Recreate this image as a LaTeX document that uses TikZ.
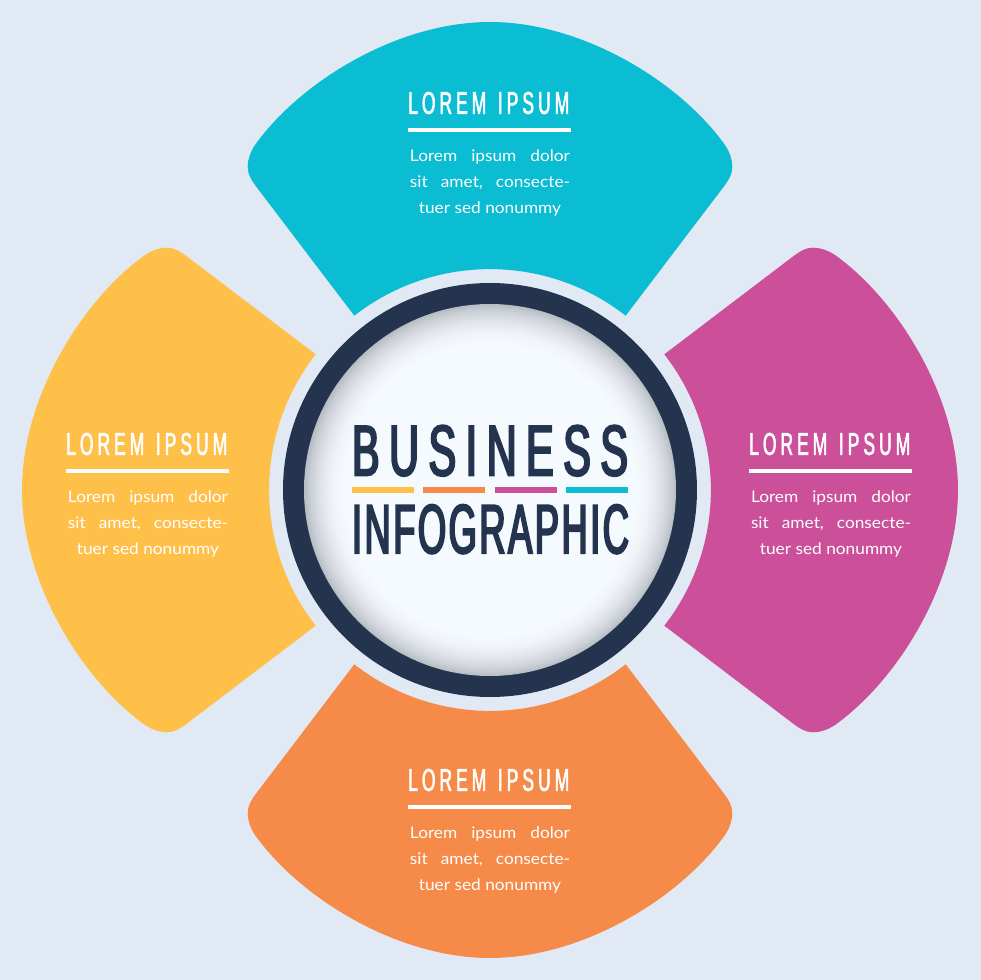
\documentclass[tikz,border=0pt]{standalone}
\usepackage{graphicx}
\usepackage{fontspec}
\setmainfont{Lato}
\newfontfamily\bodyfont[FakeStretch=1.08]{Lato}
\newfontfamily\headfont[FakeStretch=0.6,LetterSpace=14,FakeBold=2,WordSpace=1.3]{Liberation Sans}
\newfontfamily\bigfont[FakeStretch=0.61,LetterSpace=14,FakeBold=3]{Liberation Sans}
\newfontfamily\infofont[FakeStretch=0.58,LetterSpace=4,FakeBold=3]{Liberation Sans}
\definecolor{bgc}{HTML}{E1EAF4}
\definecolor{tealc}{HTML}{0BBDD3}
\definecolor{yellowc}{HTML}{FFC04A}
\definecolor{magc}{HTML}{CC4F9A}
\definecolor{orangec}{HTML}{F68A48}
\definecolor{navyc}{HTML}{24344F}
\definecolor{cenc}{HTML}{F5FAFF}
\definecolor{sh1}{HTML}{B6BCC3}
\definecolor{sh2}{HTML}{CACFD6}
\definecolor{sh3}{HTML}{E0E4E9}
\definecolor{sh4}{HTML}{F0F4F8}
\pgfdeclareradialshading{ringshade}{\pgfpointorigin}{color(0bp)=(cenc); color(19.6bp)=(cenc); color(21.2bp)=(sh4); color(22.8bp)=(sh3); color(24.2bp)=(sh2); color(25bp)=(sh1); color(50bp)=(sh1)}
\newcommand\petalpath{(-135.7,174.3) -- (-232,301) .. controls (-239,310) and (-242.3,316) .. (-242.3,323) .. controls (-242.3,331) and (-239.5,338) .. (-235,345) .. controls (-190,408) and (-93,468) .. (0,468) .. controls (93,468) and (190,408) .. (235,345) .. controls (239.5,338) and (242.3,331) .. (242.3,323) .. controls (242.3,316) and (239,310) .. (232,301) -- (135.7,174.3) arc[start angle=52.1,end angle=127.9,radius=220.9pt] -- cycle}
\tikzset{
  x=1pt,y=1pt,
  headtext/.style={inner sep=0pt,text=white,anchor=west},
  bodytext/.style={inner sep=0pt,text=white,align=center,anchor=north,font=\bodyfont\fontsize{16}{26}\selectfont},
  whiterule/.style={fill=white,inner sep=0pt,minimum width=163pt,minimum height=3.5pt,anchor=west},
  bar/.style={inner sep=0pt,minimum width=62pt,minimum height=6pt}
}
% id, centre x (px), top heading y (px)
\newcommand\infoblock[3]{%
  \node[headtext] (#1head) at (#2-82,490-#3) {\resizebox{161pt}{22pt}{\fontsize{30.7}{32}\headfont LOREM IPSUM}};
  \node[whiterule] (#1rule) at (#2-82,490-#3-27) {};
  \node[bodytext] (#1body) at (#2,490-#3-46.5) {%
    \makebox[160pt][s]{Lorem\hfill ipsum\hfill dolor}\\
    \makebox[160pt][s]{sit\hfill amet,\hfill consecte-}\\
    tuer sed nonummy};
}
\begin{document}
\begin{tikzpicture}
\useasboundingbox (-490,-490) rectangle (490,490);
\fill[bgc] (-495,-495) rectangle (495,495);
\fill[tealc] \petalpath;
\begin{scope}[rotate=90]\fill[yellowc] \petalpath;\end{scope}
\begin{scope}[rotate=180]\fill[orangec] \petalpath;\end{scope}
\begin{scope}[rotate=270]\fill[magc] \petalpath;\end{scope}
\fill[navyc] (0,0) circle[radius=207pt];
\shade[shading=ringshade] (0,0) circle[radius=186pt];
\node[inner sep=0pt,text=navyc] (business) at (0,39.3) {\resizebox{276pt}{50pt}{\fontsize{69.8}{72}\bigfont BUSINESS}};
\node[inner sep=0pt,text=navyc] (infographic) at (0.5,-39.2) {\resizebox{277pt}{48.5pt}{\fontsize{67.7}{70}\infofont INFOGRAPHIC}};
\node[bar,fill=yellowc] (bara) at (-107,0) {};
\node[bar,fill=orangec] (barb) at (-36,0) {};
\node[bar,fill=magc] (barc) at (36,0) {};
\node[bar,fill=tealc] (bard) at (107,0) {};
\infoblock{top}{490-490}{103}
\infoblock{left}{148-490}{444}
\infoblock{right}{831-490}{444}
\infoblock{bottom}{490-490}{780}
\end{tikzpicture}
\end{document}
